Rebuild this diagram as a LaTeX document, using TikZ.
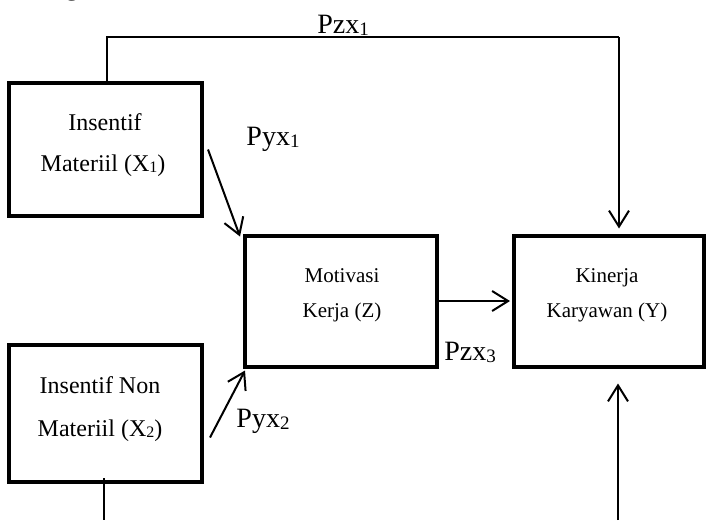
\documentclass[tikz,border=0pt]{standalone}
\usepackage{fontspec}
\setmainfont{Liberation Serif}
\usetikzlibrary{arrows.meta}
\begin{document}
\begin{tikzpicture}[x=1pt,y=-1pt,
  box/.style={draw, line width=4pt, inner sep=0pt},
  btext/.style={anchor=base, inner sep=0pt, font=\fontsize{24}{28}\selectfont},
  ztext/.style={anchor=base, inner sep=0pt, font=\fontsize{21}{25}\selectfont},
  lbl/.style={inner sep=0pt, font=\fontsize{28}{32}\selectfont},
  arr/.style={line width=2pt, -{Straight Barb[length=16pt,width=20pt]}},
  thinln/.style={line width=1.3pt},
]
\useasboundingbox (0,0) rectangle (706,520);
% cut-off heading fragment
\node[anchor=base, inner sep=0pt, font=\fontsize{26}{30}\selectfont] (frag) at (72,-5) {g};
% boxes
\node[box, minimum width=193pt, minimum height=133pt] (x1) at (105.5,149.5) {};
\node[box, minimum width=193pt, minimum height=137pt] (x2) at (105.5,413.5) {};
\node[box, minimum width=192pt, minimum height=131pt] (z) at (341,301) {};
\node[box, minimum width=190pt, minimum height=131pt] (y) at (609,301) {};
% box texts
\node[btext] (x1a) at (105,130) {Insentif};
\node[btext] (x1b) at (103,171) {Materiil (X\raisebox{-1.5pt}{\fontsize{16}{16}\selectfont 1})};
\node[btext] (x2a) at (100,393) {Insentif Non};
\node[btext] (x2b) at (100,436) {Materiil (X\raisebox{-1.5pt}{\fontsize{16}{16}\selectfont 2})};
\node[ztext] (za) at (342,282) {Motivasi};
\node[ztext] (zb) at (342,317) {Kerja (Z)};
\node[ztext] (ya) at (607,282) {Kinerja};
\node[ztext] (yb) at (607,317) {Karyawan (Y)};
% labels
\node[lbl, anchor=base] (pzx1) at (343,33) {Pzx\raisebox{-2.5pt}{\fontsize{19}{19}\selectfont 1}};
\node[lbl, anchor=base] (pyx1) at (273,145) {Pyx\raisebox{-2.5pt}{\fontsize{19}{19}\selectfont 1}};
\node[lbl, anchor=base] (pyx2) at (263,427) {Pyx\raisebox{-2.5pt}{\fontsize{19}{19}\selectfont 2}};
\node[lbl, anchor=base] (pzx3) at (470,360) {Pzx\raisebox{-2.5pt}{\fontsize{19}{19}\selectfont 3}};
% connectors
\coordinate (t1) at (107,37);
\coordinate (t2) at (619,37);
\coordinate (b1) at (104,520);
\coordinate (b2) at (618,520);
\draw[thinln] (x1.north -| t1) -- (t1) -- (t2);
\draw[arr] (t2) -- (y.north -| t2) [shorten >=5pt];
\draw[arr] ([xshift=4pt]x1.east) -- ([shift={(-3,3)}]z.north west);
\draw[arr] ([shift={(6,24)}]x2.east) -- ([shift={(2,2)}]z.south west);
\draw[arr, shorten >=2pt] (z.east) -- (y.west);
\draw[line width=2pt] ([yshift=6pt]x2.south -| b1) -- (b1);
\draw[arr, shorten >=15pt] (b2) -- (b2 |- y.south);
\end{tikzpicture}
\end{document}
